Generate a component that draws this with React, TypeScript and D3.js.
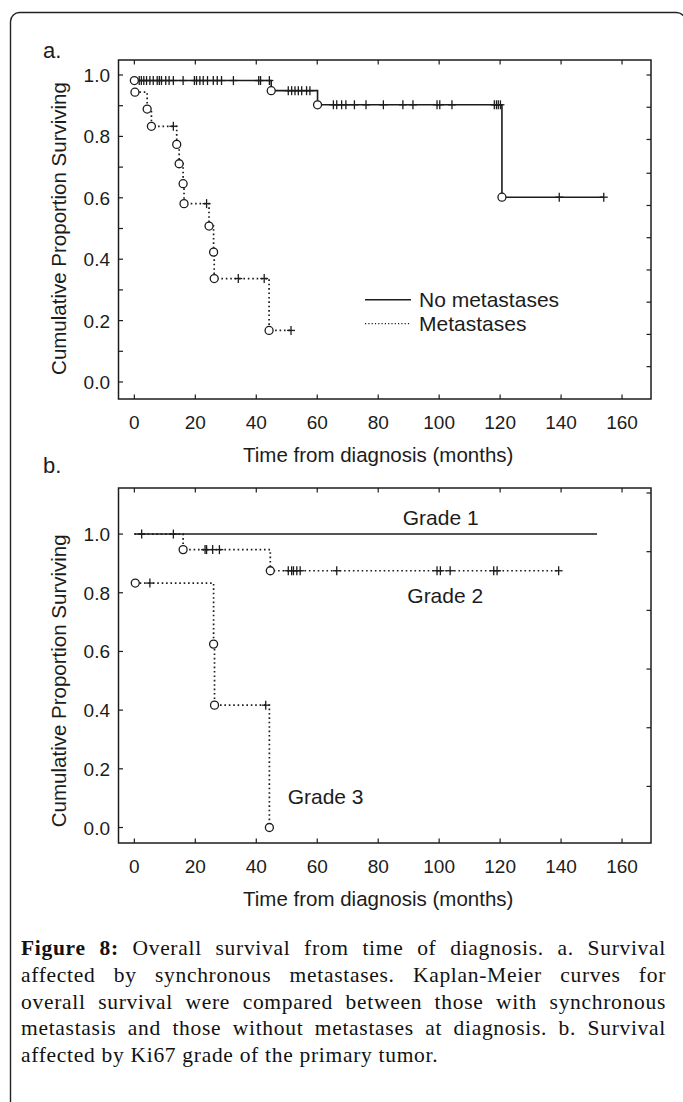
import { useEffect, useRef } from 'react';
import * as d3 from 'd3';

// ---- data ----
const monthTicks = [0, 20, 40, 60, 80, 100, 120, 140, 160];
const survTicks = [0, 0.2, 0.4, 0.6, 0.8, 1.0];
const survMinorTicksA = [0.1, 0.3, 0.5, 0.7, 0.9];
// the right-hand axes carry their own, slightly offset tick marks
const rightTicksA = [0.05, 0.155, 0.26, 0.365, 0.47, 0.575, 0.68, 0.79, 0.895, 1.0];
const rightTicksB = [0.14, 0.34, 0.54, 0.74, 0.94, 1.14];

// panel a: no metastases (solid)
const noMetEventTimes = [0, 44.9, 60.1, 120.6];
const noMetSurvival = [0.982, 0.949, 0.903, 0.602];
const noMetCensored = [
  1.6, 2.3, 3.1, 4, 5.1, 6.2, 7.5, 8.2, 8.9, 10.3, 11.4, 12.8, 16, 19.7, 20.4, 21.5, 22.6, 24, 25.9,
  27.2, 28.6, 32.5, 40.8, 41.4, 44.3, 50.5, 51.6, 52.7, 53.8, 54.9, 56.5, 57.6, 65.3, 66.4, 68, 69.4,
  72.2, 76, 81.7, 88.1, 91.4, 99.3, 100.2, 104.2, 118.1, 118.8, 119.4, 120.1, 139.4, 154,
];
const noMetEnd = 154;

// panel a: metastases (dotted)
const metEventTimes = [0.2, 4.2, 5.6, 13.9, 14.7, 16, 16.3, 24.5, 26, 26.2, 44.2];
const metSurvival = [0.944, 0.889, 0.833, 0.774, 0.711, 0.646, 0.581, 0.508, 0.423, 0.337, 0.168];
const metCensored = [12.8, 23.7, 34.1, 42.6, 51.4];
const metEnd = 51.4;

// panel b: Ki67 grades
const grade1EventTimes: number[] = [];
const grade1Survival: number[] = [];
const grade1Censored = [2.4, 12.8];
const grade1End = 151.8;

const grade2EventTimes = [16, 44.6];
const grade2Survival = [0.947, 0.875];
const grade2Censored = [
  23.2, 23.7, 25.7, 27.9, 50.5, 51.6, 52.2, 53.3, 54.4, 66.4, 99.3, 100.4, 103.6, 117.9, 119, 139.2,
];
const grade2End = 139.2;

const grade3EventTimes = [0.3, 26, 26.3, 44.3];
const grade3Survival = [0.833, 0.625, 0.417, 0];
const grade3Censored = [5.1, 43.1];
const grade3End = 44.3;

const captionLines = [
  'Overall survival from time of diagnosis. a. Survival',
  'affected by synchronous metastases. Kaplan-Meier curves for',
  'overall survival were compared between those with synchronous',
  'metastasis and those without metastases at diagnosis. b. Survival',
  'affected by Ki67 grade of the primary tumor.',
];

const INK = '#1c1c1c';
const SANS = '"Liberation Sans", Arial, sans-serif';

interface Curve {
  times: number[];
  surv: number[];
  censored: number[];
  end: number;
  dotted: boolean;
}

function survAt(c: Curve, t: number) {
  let s = 1;
  c.times.forEach((et, i) => {
    if (et <= t) s = c.surv[i];
  });
  return s;
}

// step points of a Kaplan-Meier curve; a death at (almost) t=0 starts the curve at its circle
function stepPoints(c: Curve): [number, number][] {
  const pts: [number, number][] = [];
  let start = 0;
  if (c.times.length && c.times[0] < 1) {
    pts.push([c.times[0], c.surv[0]]);
    start = 1;
  } else {
    pts.push([0, 1]);
  }
  for (let i = start; i < c.times.length; i++) pts.push([c.times[i], c.surv[i]]);
  pts.push([c.end, pts[pts.length - 1][1]]);
  return pts;
}

function drawPanel(
  svg: d3.Selection<SVGSVGElement, unknown, null, undefined>,
  opts: {
    top: number;
    bottom: number;
    yDomain: [number, number];
    minor: number[];
    rightTicks: number[];
    curves: Curve[];
    letter: string;
    letterY: number;
  }
) {
  const left = 118.5;
  const right = 651;
  const x = d3.scaleLinear().domain([-5.2, 169.5]).range([left, right]);
  const y = d3.scaleLinear().domain(opts.yDomain).range([opts.bottom, opts.top]);
  const g = svg.append('g');

  // frame
  g.append('rect')
    .attr('x', left)
    .attr('y', opts.top)
    .attr('width', right - left)
    .attr('height', opts.bottom - opts.top)
    .attr('fill', 'none')
    .attr('stroke', INK)
    .attr('stroke-width', 1.5);

  const tl = 4.5;
  // x ticks (inward, bottom and top)
  monthTicks.forEach(t => {
    g.append('line').attr('x1', x(t)).attr('x2', x(t)).attr('y1', opts.bottom).attr('y2', opts.bottom - tl).attr('stroke', INK).attr('stroke-width', 1.2);
    g.append('line').attr('x1', x(t)).attr('x2', x(t)).attr('y1', opts.top).attr('y2', opts.top + tl).attr('stroke', INK).attr('stroke-width', 1.2);
    g.append('text')
      .attr('x', x(t))
      .attr('y', opts.bottom + 30)
      .attr('text-anchor', 'middle')
      .style('font-family', SANS)
      .style('font-size', '19px')
      .attr('fill', INK)
      .text(t);
  });

  // y ticks (inward)
  [...survTicks, ...opts.minor].forEach(v => {
    g.append('line').attr('x1', left).attr('x2', left + tl).attr('y1', y(v)).attr('y2', y(v)).attr('stroke', INK).attr('stroke-width', 1.2);
  });
  opts.rightTicks.forEach(v => {
    g.append('line').attr('x1', right).attr('x2', right - tl).attr('y1', y(v)).attr('y2', y(v)).attr('stroke', INK).attr('stroke-width', 1.2);
  });
  survTicks.forEach(v => {
    g.append('text')
      .attr('x', left - 8.5)
      .attr('y', y(v) + 7)
      .attr('text-anchor', 'end')
      .style('font-family', SANS)
      .style('font-size', '19px')
      .attr('fill', INK)
      .text(d3.format('.1f')(v));
  });

  // axis titles
  g.append('text')
    .attr('transform', `translate(66,${(y(0) + y(1)) / 2}) rotate(-90)`)
    .attr('text-anchor', 'middle')
    .style('font-family', SANS)
    .style('font-size', '20.5px')
    .attr('fill', INK)
    .text('Cumulative Proportion Surviving');
  g.append('text')
    .attr('x', (x(0) + x(160)) / 2)
    .attr('y', opts.bottom + 63)
    .attr('text-anchor', 'middle')
    .style('font-family', SANS)
    .style('font-size', '20.5px')
    .attr('fill', INK)
    .text('Time from diagnosis (months)');

  g.append('text')
    .attr('x', 43)
    .attr('y', opts.letterY)
    .style('font-family', SANS)
    .style('font-size', '22px')
    .attr('fill', INK)
    .text(opts.letter);

  const line = d3
    .line<[number, number]>()
    .x(d => x(d[0]))
    .y(d => y(d[1]))
    .curve(d3.curveStepAfter);

  opts.curves.forEach(c => {
    const cg = g.append('g');
    cg.append('path')
      .datum(stepPoints(c))
      .attr('d', line)
      .attr('fill', 'none')
      .attr('stroke', INK)
      .attr('stroke-width', c.dotted ? 1.7 : 1.6)
      .attr('stroke-dasharray', c.dotted ? '1.6,2.8' : null);

    c.censored.forEach(t => {
      const cx = x(t);
      const cy = y(survAt(c, t));
      cg.append('line').attr('x1', cx).attr('x2', cx).attr('y1', cy - 4.5).attr('y2', cy + 4.5).attr('stroke', INK).attr('stroke-width', 1.3);
      cg.append('line').attr('x1', cx - 4).attr('x2', cx + 4).attr('y1', cy).attr('y2', cy).attr('stroke', INK).attr('stroke-width', 1.3);
    });

    c.times.forEach((t, i) => {
      cg.append('circle')
        .attr('cx', x(t))
        .attr('cy', y(c.surv[i]))
        .attr('r', 4)
        .attr('fill', 'white')
        .attr('stroke', INK)
        .attr('stroke-width', 1.3);
    });
  });

  return { x, y, g };
}

export default function App() {
  const svgRef = useRef<SVGSVGElement>(null);

  useEffect(() => {
    const svg = d3.select(svgRef.current as SVGSVGElement);
    svg.selectAll('*').remove();

    // outer frame with rounded corners (right and bottom edges run off the page)
    svg.append('rect')
      .attr('x', 10.5)
      .attr('y', 12.5)
      .attr('width', 675)
      .attr('height', 1110)
      .attr('rx', 9)
      .attr('fill', 'none')
      .attr('stroke', '#222')
      .attr('stroke-width', 1.4);

    // panel a
    const a = drawPanel(svg, {
      top: 60,
      bottom: 399,
      yDomain: [-0.0554, 1.0489],
      minor: survMinorTicksA,
      rightTicks: rightTicksA,
      letter: 'a.',
      letterY: 58,
      curves: [
        { times: noMetEventTimes, surv: noMetSurvival, censored: noMetCensored, end: noMetEnd, dotted: false },
        { times: metEventTimes, surv: metSurvival, censored: metCensored, end: metEnd, dotted: true },
      ],
    });

    // legend
    const legend = [
      { label: 'No metastases', dotted: false, s: 0.268 },
      { label: 'Metastases', dotted: true, s: 0.19 },
    ];
    legend.forEach(l => {
      a.g.append('line')
        .attr('x1', 365)
        .attr('x2', 411)
        .attr('y1', a.y(l.s))
        .attr('y2', a.y(l.s))
        .attr('stroke', INK)
        .attr('stroke-width', l.dotted ? 1.2 : 1.6)
        .attr('stroke-dasharray', l.dotted ? '1.2,2.1' : null);
      a.g.append('text')
        .attr('x', 419)
        .attr('y', a.y(l.s) + 7.5)
        .style('font-family', SANS)
        .style('font-size', '21px')
        .attr('fill', INK)
        .text(l.label);
    });

    // panel b
    const b = drawPanel(svg, {
      top: 488,
      bottom: 843,
      yDomain: [-0.0528, 1.157],
      minor: [],
      rightTicks: rightTicksB,
      letter: 'b.',
      letterY: 473,
      curves: [
        { times: grade1EventTimes, surv: grade1Survival, censored: grade1Censored, end: grade1End, dotted: false },
        { times: grade2EventTimes, surv: grade2Survival, censored: grade2Censored, end: grade2End, dotted: true },
        { times: grade3EventTimes, surv: grade3Survival, censored: grade3Censored, end: grade3End, dotted: true },
      ],
    });

    const gradeLabels = [
      { label: 'Grade 1', t: 100.5, s: 1.031, anchor: 'middle' },
      { label: 'Grade 2', t: 102, s: 0.764, anchor: 'middle' },
      { label: 'Grade 3', t: 50.3, s: 0.0815, anchor: 'start' },
    ];
    gradeLabels.forEach(l => {
      b.g.append('text')
        .attr('x', b.x(l.t))
        .attr('y', b.y(l.s))
        .attr('text-anchor', l.anchor)
        .style('font-family', SANS)
        .style('font-size', '21px')
        .attr('fill', INK)
        .text(l.label);
    });
  }, []);

  return (
    <div style={{ position: 'absolute', left: 0, top: 0, width: 683, height: 1102, background: 'white', overflow: 'hidden' }}>
      <svg ref={svgRef} width={683} height={1102} style={{ position: 'absolute', left: 0, top: 0 }} />
      <div
        style={{
          position: 'absolute',
          left: 21,
          top: 935,
          width: 645,
          fontFamily: '"Liberation Serif", "Times New Roman", serif',
          fontSize: '21.5px',
          letterSpacing: '0.7px',
          lineHeight: '26.8px',
          color: '#111',
        }}
      >
        {captionLines.map((line, i) => (
          <div
            key={i}
            style={{
              textAlign: 'justify',
              textAlignLast: i < captionLines.length - 1 ? 'justify' : 'left',
              whiteSpace: 'nowrap',
            }}
          >
            {i === 0 && <b>Figure 8: </b>}
            {line}
          </div>
        ))}
      </div>
    </div>
  );
}
